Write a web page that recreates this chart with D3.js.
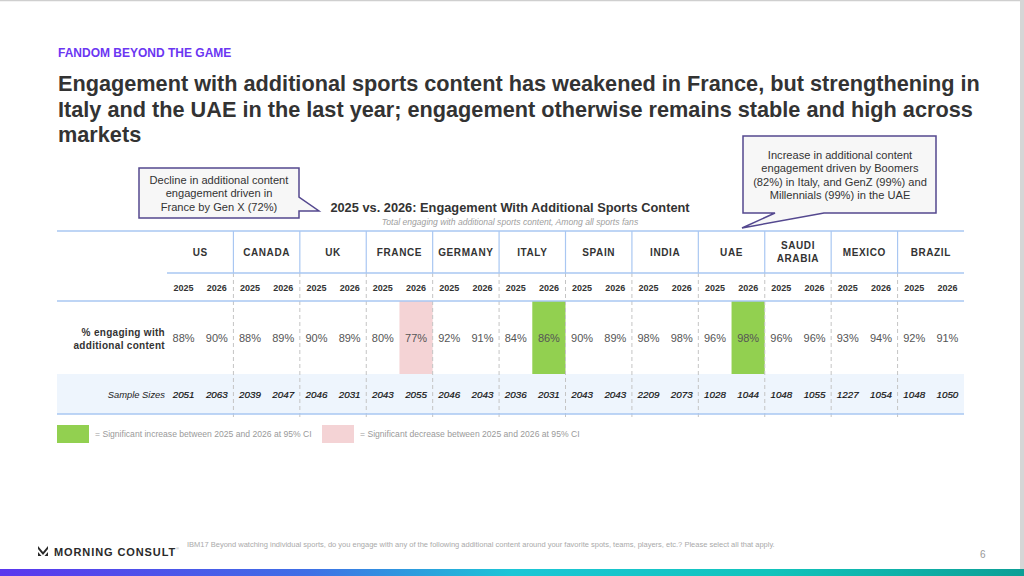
<!DOCTYPE html>
<html>
<head>
<meta charset="utf-8">
<script src="https://cdn.jsdelivr.net/npm/d3@7"></script>
<style>
html,body{margin:0;padding:0;background:#fff;overflow:hidden;}
svg{display:block;font-family:"Liberation Sans",Arial,sans-serif;}
</style>
</head>
<body>
<svg id="slide" width="1024" height="576"></svg>
<script>
// chart data
const countries = ['US','CANADA','UK','FRANCE','GERMANY','ITALY','SPAIN','INDIA','UAE','SAUDI ARABIA','MEXICO','BRAZIL'];
const years = ['2025','2026'];
const engaged2025 = [88,88,90,80,92,84,90,98,96,96,93,92];
const engaged2026 = [90,89,89,77,91,86,89,98,98,96,94,91];
const samples2025 = [2051,2039,2046,2043,2046,2036,2043,2209,1028,1048,1227,1048];
const samples2026 = [2063,2047,2031,2055,2043,2031,2043,2073,1044,1055,1054,1050];
const change2026 = ['','','','down','','up','','','up','','',''];

const titleLines = [
  'Engagement with additional sports content has weakened in France, but strengthening in',
  'Italy and the UAE in the last year; engagement otherwise remains stable and high across',
  'markets'
];
const leftNote = ['Decline in additional content','engagement driven in','France by Gen X (72%)'];
const rightNote = ['Increase in additional content','engagement driven by Boomers','(82%) in Italy, and GenZ (99%) and','Millennials (99%) in the UAE'];

const svg = d3.select('#slide');

// slide frame
svg.append('rect').attr('x',0).attr('y',0).attr('width',1024).attr('height',576).attr('fill','#fff');
svg.append('line').attr('x1',0).attr('x2',1024).attr('y1',0.5).attr('y2',0.5).attr('stroke','#cfcfcf').attr('stroke-width',1.5);
svg.append('rect').attr('x',1020).attr('y',0).attr('width',4).attr('height',576).attr('fill','#d6d6d6');

// header text
svg.append('text').attr('x',58).attr('y',57).attr('fill','#6b36f2')
  .attr('font-size',12).attr('font-weight','bold').text('FANDOM BEYOND THE GAME');

svg.append('g').selectAll('text').data(titleLines).join('text')
  .attr('x',58).attr('y',(d,i)=>91+i*25.5)
  .attr('fill','#333').attr('font-size',21.7).attr('font-weight','bold')
  .text(d=>d);

// table geometry
const tableLeft = 57, labelRight = 167, tableRight = 964;
const rows = {top:231, head:273, year:301, value:374, sample:414};

const x = d3.scaleBand().domain(countries).range([labelRight, tableRight]);
const xYear = d3.scaleBand().domain(years).range([0, x.bandwidth()]);

const cells = countries.flatMap((c,i)=>[
  {country:c, year:'2025', value:engaged2025[i], sample:samples2025[i], change:''},
  {country:c, year:'2026', value:engaged2026[i], sample:samples2026[i], change:change2026[i]}
]);
const cx = d => x(d.country) + xYear(d.year) + xYear.bandwidth()/2;

const table = svg.append('g');

// sample size band
table.append('rect').attr('x',tableLeft).attr('y',rows.value)
  .attr('width',tableRight-tableLeft).attr('height',rows.sample-rows.value).attr('fill','#eef5fd');

// significance highlight cells
const sigColor = {up:'#92d050', down:'#f4d3d5'};
table.selectAll('rect.sig').data(cells.filter(d=>d.change)).join('rect')
  .attr('class','sig')
  .attr('x',d=>x(d.country)+xYear(d.year)).attr('y',rows.year)
  .attr('width',xYear.bandwidth()).attr('height',rows.value-rows.year)
  .attr('fill',d=>sigColor[d.change]);

// dashed dividers between markets
table.selectAll('line.dash').data(countries.slice(1)).join('line')
  .attr('class','dash')
  .attr('x1',d=>x(d)).attr('x2',d=>x(d))
  .attr('y1',rows.head).attr('y2',rows.sample+4)
  .attr('stroke','#c4c4c4').attr('stroke-width',1).attr('stroke-dasharray','4,3');

// solid dividers in the country header
table.selectAll('line.head').data(countries.slice(1)).join('line')
  .attr('class','head')
  .attr('x1',d=>x(d)).attr('x2',d=>x(d))
  .attr('y1',rows.top).attr('y2',rows.head)
  .attr('stroke','#a9c7f2').attr('stroke-width',1.2);

// horizontal rules
const hRules = [
  {y:rows.top, x1:tableLeft},
  {y:rows.head, x1:labelRight},
  {y:rows.year, x1:tableLeft},
  {y:rows.sample, x1:tableLeft}
];
table.selectAll('line.rule').data(hRules).join('line')
  .attr('class','rule')
  .attr('x1',d=>d.x1).attr('x2',tableRight).attr('y1',d=>d.y).attr('y2',d=>d.y)
  .attr('stroke','#a9c7f2').attr('stroke-width',1.5);

// country names
table.selectAll('text.country').data(countries).join('text')
  .attr('class','country')
  .attr('x',d=>x(d)+x.bandwidth()/2)
  .attr('text-anchor','middle').attr('font-size',10).attr('font-weight','bold')
  .attr('letter-spacing',0.6).attr('fill','#333')
  .each(function(d){
    const words = d.split(' ');
    const y0 = (rows.top+rows.head)/2 + 3.5 - (words.length-1)*6.5;
    d3.select(this).selectAll('tspan').data(words).join('tspan')
      .attr('x',x(d)+x.bandwidth()/2).attr('y',(w,i)=>y0+i*13).text(w=>w);
  });

// year labels
table.selectAll('text.year').data(cells).join('text')
  .attr('class','year')
  .attr('x',cx).attr('y',(rows.head+rows.year)/2+3.5)
  .attr('text-anchor','middle').attr('font-size',9).attr('font-weight','bold').attr('fill','#333')
  .text(d=>d.year);

// engagement values
table.selectAll('text.val').data(cells).join('text')
  .attr('class','val')
  .attr('x',cx).attr('y',(rows.year+rows.value)/2+4)
  .attr('text-anchor','middle').attr('font-size',11).attr('fill','#555')
  .text(d=>d.value+'%');

// sample sizes
table.selectAll('text.n').data(cells).join('text')
  .attr('class','n')
  .attr('x',cx).attr('y',(rows.value+rows.sample)/2+3.5)
  .attr('text-anchor','middle').attr('font-size',9.8).attr('font-style','italic').attr('fill','#111')
  .attr('stroke','#111').attr('stroke-width',0.2)
  .text(d=>d.sample);

// row labels
table.append('text').attr('x',labelRight-2).attr('text-anchor','end')
  .attr('font-size',10).attr('font-weight','bold').attr('fill','#333').attr('letter-spacing',0.3)
  .selectAll('tspan').data(['% engaging with','additional content']).join('tspan')
  .attr('x',labelRight-2).attr('y',(d,i)=>336+i*12.5).text(d=>d);
table.append('text').attr('x',labelRight-2).attr('y',(rows.value+rows.sample)/2+3.5)
  .attr('text-anchor','end').attr('font-size',9.4).attr('font-style','italic').attr('fill','#222')
  .text('Sample Sizes');

// chart title
svg.append('text').attr('x',510).attr('y',212).attr('text-anchor','middle')
  .attr('font-size',12.8).attr('font-weight','bold').attr('fill','#333')
  .text('2025 vs. 2026: Engagement With Additional Sports Content');
svg.append('text').attr('x',510).attr('y',224.5).attr('text-anchor','middle')
  .attr('font-size',8.6).attr('font-style','italic').attr('fill','#a0a0a0')
  .text('Total engaging with additional sports content, Among all sports fans');

// callouts
const callout = (path, lines, cxp, y0, step) => {
  const g = svg.append('g');
  g.append('path').attr('d',path).attr('fill','#f7f7f7')
    .attr('stroke','#54488f').attr('stroke-width',1.5).attr('stroke-linejoin','miter');
  g.append('text').attr('text-anchor','middle').attr('font-size',11.1).attr('fill','#333')
    .selectAll('tspan').data(lines).join('tspan')
    .attr('x',cxp).attr('y',(d,i)=>y0+i*step).text(d=>d);
};
callout('M139,168 H299 V197 L319,211 L299,211 V218 H139 Z', leftNote, 219, 184, 13.3);
callout('M743,136 H936 V213 H824 L742,228 L775,213 H743 Z', rightNote, 840, 159, 13.4);

// legend
const legendItems = [
  {key:'up', x:57, label:'= Significant increase between 2025 and 2026 at 95% CI'},
  {key:'down', x:322, label:'= Significant decrease between 2025 and 2026 at 95% CI'}
];
const lg = svg.append('g').selectAll('g').data(legendItems).join('g');
lg.append('rect').attr('x',d=>d.x).attr('y',425).attr('width',32).attr('height',18)
  .attr('fill',d=>sigColor[d.key]);
lg.append('text').attr('x',d=>d.x+38).attr('y',437).attr('font-size',8.6).attr('fill','#9a9a9a')
  .text(d=>d.label);

// footer
const logo = svg.append('g').attr('transform','translate(38,546)');
logo.append('path').attr('d','M0,0 L5,6 L10,0 L10,3 L5,9 L0,3 Z').attr('fill','#2a2a2a');
logo.append('path').attr('d','M0,6 L3.5,10 L0,10 Z M10,6 L6.5,10 L10,10 Z').attr('fill','#2a2a2a');
const brand = svg.append('text').attr('x',54).attr('y',556).attr('font-size',11).attr('font-weight','bold')
  .attr('letter-spacing',0.9).attr('fill','#2a2a2a');
brand.append('tspan').text('MORNING CONSULT');
brand.append('tspan').attr('font-size',4).attr('dy',-6).attr('dx',0).attr('letter-spacing',0)
  .attr('font-weight','normal').attr('fill','#999').text('®');
svg.append('text').attr('x',187).attr('y',547).attr('font-size',7.5).attr('fill','#aaa')
  .text('IBM17 Beyond watching individual sports, do you engage with any of the following additional content around your favorite spots, teams, players, etc.? Please select all that apply.');
svg.append('text').attr('x',980).attr('y',558).attr('font-size',10).attr('fill','#999').text('6');

// gradient strip
const grad = svg.append('defs').append('linearGradient').attr('id','strip');
grad.selectAll('stop').data([
  {o:0,c:'#5a36ee'},{o:0.3,c:'#3f6fe6'},{o:0.5,c:'#1cc6d6'},{o:0.75,c:'#12c4bc'},{o:1,c:'#0d9f96'}
]).join('stop').attr('offset',d=>d.o).attr('stop-color',d=>d.c);
svg.append('rect').attr('x',0).attr('y',569).attr('width',1024).attr('height',7).attr('fill','url(#strip)');
</script>
</body>
</html>
